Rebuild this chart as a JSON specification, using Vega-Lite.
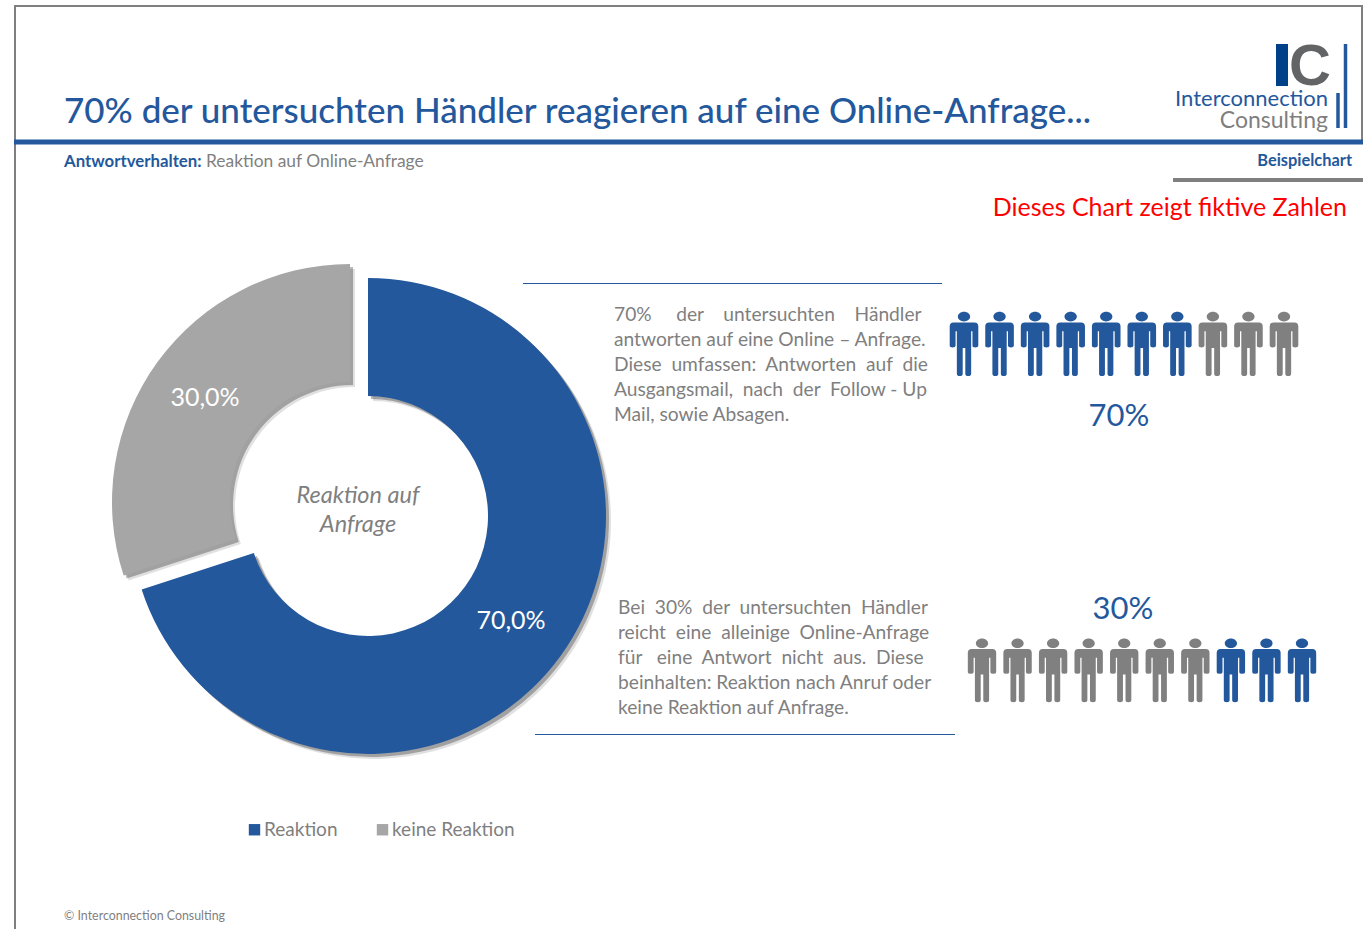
{
"$schema":"https://vega.github.io/schema/vega-lite/v6.json",
"width":1363,"height":929,"padding":0,
"autosize":{"type":"fit","contains":"padding"},
"background":"white",
"config":{"view":{"stroke":null},"text":{"font":"Lato"}},
"datasets":{
"anteile":[{"Antwort":"Reaktion","von":0,"bis":70,"Etikett":"70,0%"},{"Antwort":"keine Reaktion","von":70,"bis":100,"Etikett":"30,0%"}],
"figuren70":[{"nr":1,"status":"Reaktion"},{"nr":2,"status":"Reaktion"},{"nr":3,"status":"Reaktion"},{"nr":4,"status":"Reaktion"},{"nr":5,"status":"Reaktion"},{"nr":6,"status":"Reaktion"},{"nr":7,"status":"Reaktion"},{"nr":8,"status":"keine"},{"nr":9,"status":"keine"},{"nr":10,"status":"keine"}],
"figuren30":[{"nr":1,"status":"keine"},{"nr":2,"status":"keine"},{"nr":3,"status":"keine"},{"nr":4,"status":"keine"},{"nr":5,"status":"keine"},{"nr":6,"status":"keine"},{"nr":7,"status":"keine"},{"nr":8,"status":"Reaktion"},{"nr":9,"status":"Reaktion"},{"nr":10,"status":"Reaktion"}],
"eins":[{"n":1}]
},
"layer":[
{"data":{"name":"eins"},"mark":{"type":"rule","color":"#7f7f7f","strokeWidth":2},"encoding":{"x":{"value":14},"x2":{"value":1363},"y":{"value":6}}},
{"data":{"name":"eins"},"mark":{"type":"rule","color":"#7f7f7f","strokeWidth":2},"encoding":{"x":{"value":15},"y":{"value":6},"y2":{"value":929}}},
{"data":{"name":"eins"},"mark":{"type":"rule","color":"#7f7f7f","strokeWidth":2},"encoding":{"x":{"value":1362},"y":{"value":6},"y2":{"value":142}}},
{"data":{"name":"eins"},"mark":{"type":"rule","color":"#24589c","strokeWidth":5},"encoding":{"x":{"value":14},"x2":{"value":1363},"y":{"value":142}}},
{"data":{"name":"eins"},"mark":{"type":"rule","color":"#7f7f7f","strokeWidth":4},"encoding":{"x":{"value":1173},"x2":{"value":1363},"y":{"value":180}}},
{"data":{"name":"eins"},"mark":{"type":"rule","color":"#24589c","strokeWidth":1},"encoding":{"x":{"value":523},"x2":{"value":942},"y":{"value":283.5}}},
{"data":{"name":"eins"},"mark":{"type":"rule","color":"#24589c","strokeWidth":1},"encoding":{"x":{"value":535},"x2":{"value":955},"y":{"value":734.5}}},
{"data":{"name":"eins"},"mark":{"type":"rule","color":"#004088","strokeWidth":12},"encoding":{"x":{"value":1282},"y":{"value":44},"y2":{"value":86}}},
{"data":{"name":"eins"},"mark":{"type":"rule","color":"#24589c","strokeWidth":3.5},"encoding":{"x":{"value":1345.5},"y":{"value":44},"y2":{"value":128}}},
{"data":{"name":"eins"},"mark":{"type":"rule","color":"#24589c","strokeWidth":3.5},"encoding":{"x":{"value":1338},"y":{"value":93},"y2":{"value":128}}},
{"data":{"values":[{"t":"C"}]},"mark":{"type":"text","font":"Liberation Sans","fontWeight":"bold","fontSize":58,"color":"#636466","align":"right","baseline":"alphabetic"},"encoding":{"text":{"field":"t"},"x":{"value":1331},"y":{"value":85}}},
{"data":{"values":[{"t":"Interconnection"}]},"mark":{"type":"text","fontSize":22,"color":"#24589c","align":"right","baseline":"alphabetic"},"encoding":{"text":{"field":"t"},"x":{"value":1328},"y":{"value":106}}},
{"data":{"values":[{"t":"Consulting"}]},"mark":{"type":"text","fontSize":23,"color":"#7f7f7f","align":"right","baseline":"alphabetic"},"encoding":{"text":{"field":"t"},"x":{"value":1328},"y":{"value":128}}},
{"data":{"values":[{"t":"70% der untersuchten Händler reagieren auf eine Online-Anfrage..."}]},"mark":{"type":"text","fontSize":35,"fontWeight":500,"color":"#24589c","align":"left","baseline":"alphabetic"},"encoding":{"text":{"field":"t"},"x":{"value":64},"y":{"value":123}}},
{"data":{"values":[{"t":"Antwortverhalten:"}]},"mark":{"type":"text","fontSize":16.8,"fontWeight":"bold","color":"#24589c","align":"left","baseline":"alphabetic"},"encoding":{"text":{"field":"t"},"x":{"value":64},"y":{"value":167}}},
{"data":{"values":[{"t":"Reaktion auf Online-Anfrage"}]},"mark":{"type":"text","fontSize":17.4,"color":"#7f7f7f","align":"left","baseline":"alphabetic"},"encoding":{"text":{"field":"t"},"x":{"value":206},"y":{"value":167}}},
{"data":{"values":[{"t":"Beispielchart"}]},"mark":{"type":"text","fontSize":16.4,"fontWeight":"bold","color":"#24589c","align":"right","baseline":"alphabetic"},"encoding":{"text":{"field":"t"},"x":{"value":1352},"y":{"value":166}}},
{"data":{"values":[{"t":"Dieses Chart zeigt fiktive Zahlen"}]},"mark":{"type":"text","fontSize":25,"color":"#ff0000","align":"right","baseline":"alphabetic"},"encoding":{"text":{"field":"t"},"x":{"value":1347},"y":{"value":216}}},
{"data":{"name":"anteile"},"mark":{"type":"arc","innerRadius":120,"outerRadius":238,"color":"#000000","opacity":0.12},"encoding":{
"x":{"field":"Antwort","type":"nominal","axis":null,"scale":{"type":"point","padding":0,"domain":["Reaktion","keine Reaktion"],"range":[373,355]}},
"y":{"field":"Antwort","type":"nominal","axis":null,"scale":{"type":"point","padding":0,"domain":["Reaktion","keine Reaktion"],"range":[521,507]}},
"theta":{"field":"von","type":"quantitative","scale":{"domain":[0,100],"range":[0,6.28318]}},"theta2":{"field":"bis"}}},
{"data":{"name":"anteile"},"mark":{"type":"arc","innerRadius":120,"outerRadius":238,"color":"#000000","opacity":0.28},"encoding":{
"x":{"field":"Antwort","type":"nominal","axis":null,"scale":{"type":"point","padding":0,"domain":["Reaktion","keine Reaktion"],"range":[371,353]}},
"y":{"field":"Antwort","type":"nominal","axis":null,"scale":{"type":"point","padding":0,"domain":["Reaktion","keine Reaktion"],"range":[519,505]}},
"theta":{"field":"von","type":"quantitative","scale":{"domain":[0,100],"range":[0,6.28318]}},"theta2":{"field":"bis"}}},
{"data":{"name":"anteile"},"mark":{"type":"arc","innerRadius":120,"outerRadius":238},"encoding":{
"x":{"field":"Antwort","type":"nominal","axis":null,"scale":{"type":"point","padding":0,"domain":["Reaktion","keine Reaktion"],"range":[368,350]}},
"y":{"field":"Antwort","type":"nominal","axis":null,"scale":{"type":"point","padding":0,"domain":["Reaktion","keine Reaktion"],"range":[516,502]}},
"theta":{"field":"von","type":"quantitative","scale":{"domain":[0,100],"range":[0,6.28318]}},"theta2":{"field":"bis"},
"color":{"field":"Antwort","type":"nominal","scale":{"domain":["Reaktion","keine Reaktion"],"range":["#24589c","#a6a6a6"]},
"legend":{"title":null,"orient":"none","legendX":245,"legendY":820,"direction":"horizontal","symbolType":"square","symbolSize":130,"symbolStrokeWidth":0,"labelFont":"Lato","labelFontSize":19,"labelColor":"#7f7f7f","labelOffset":0,"columnPadding":35,"symbolOpacity":1}}}},
{"data":{"name":"anteile"},"mark":{"type":"text","fontSize":25,"color":"white","align":"center","baseline":"middle"},"encoding":{
"text":{"field":"Etikett"},
"x":{"field":"Antwort","type":"nominal","axis":null,"scale":{"type":"point","padding":0,"domain":["Reaktion","keine Reaktion"],"range":[511,205]}},
"y":{"field":"Antwort","type":"nominal","axis":null,"scale":{"type":"point","padding":0,"domain":["Reaktion","keine Reaktion"],"range":[621,398]}}}},
{"data":{"values":[{"t":"Reaktion auf\nAnfrage"}]},"mark":{"type":"text","fontSize":23.5,"fontStyle":"italic","color":"#7f7f7f","align":"center","baseline":"middle","lineBreak":"\n","lineHeight":29},"encoding":{"text":{"field":"t"},"x":{"value":358},"y":{"value":496}}},
{"data":{"values":[{"t":"70%\u00a0\u00a0\u00a0\u00a0\u00a0der\u00a0\u00a0\u00a0\u00a0untersuchten\u00a0\u00a0\u00a0\u00a0Händler\nantworten auf eine Online – Anfrage.\nDiese\u00a0\u00a0umfassen:\u00a0\u00a0Antworten\u00a0\u00a0auf\u00a0\u00a0die\nAusgangsmail,\u00a0\u00a0nach\u00a0\u00a0der\u00a0\u00a0Follow - Up\nMail, sowie Absagen."}]},"mark":{"type":"text","fontSize":19.2,"color":"#7f7f7f","align":"left","baseline":"middle","lineBreak":"\n","lineHeight":25},"encoding":{"text":{"field":"t"},"x":{"value":614},"y":{"value":315}}},
{"data":{"values":[{"t":"Bei\u00a0\u00a030%\u00a0\u00a0der\u00a0\u00a0untersuchten\u00a0\u00a0Händler\nreicht\u00a0\u00a0eine\u00a0\u00a0alleinige\u00a0\u00a0Online-Anfrage\nfür\u00a0\u00a0\u00a0eine\u00a0\u00a0Antwort\u00a0\u00a0nicht\u00a0\u00a0aus.\u00a0\u00a0Diese\nbeinhalten: Reaktion nach Anruf oder\nkeine Reaktion auf Anfrage."}]},"mark":{"type":"text","fontSize":19.2,"color":"#7f7f7f","align":"left","baseline":"middle","lineBreak":"\n","lineHeight":25},"encoding":{"text":{"field":"t"},"x":{"value":618},"y":{"value":608}}},
{"data":{"name":"figuren70"},"mark":{"type":"point","filled":true,"opacity":1,"size":4224,"shape":"M-0.19,-0.83 A0.19,0.15 0 1,1 0.19,-0.83 A0.19,0.15 0 1,1 -0.19,-0.83 Z M-0.32,-0.65 H0.32 Q0.44,-0.65 0.44,-0.53 V0.07 Q0.44,0.12 0.35,0.12 Q0.26,0.12 0.26,0.07 V-0.38 H0.22 V0.93 Q0.22,1 0.13,1 Q0.04,1 0.04,0.93 V0.14 H-0.04 V0.93 Q-0.04,1 -0.13,1 Q-0.22,1 -0.22,0.93 V-0.38 H-0.26 V0.07 Q-0.26,0.12 -0.35,0.12 Q-0.44,0.12 -0.44,0.07 V-0.53 Q-0.44,-0.65 -0.32,-0.65 Z"},"encoding":{
"x":{"field":"nr","type":"quantitative","axis":null,"scale":{"domain":[1,10],"range":[964,1284]}},
"y":{"value":343.5},
"color":{"condition":{"test":"datum.status==='Reaktion'","value":"#24589c"},"value":"#808080"}}},
{"data":{"name":"figuren30"},"mark":{"type":"point","filled":true,"opacity":1,"size":4160,"shape":"M-0.19,-0.83 A0.19,0.15 0 1,1 0.19,-0.83 A0.19,0.15 0 1,1 -0.19,-0.83 Z M-0.32,-0.65 H0.32 Q0.44,-0.65 0.44,-0.53 V0.07 Q0.44,0.12 0.35,0.12 Q0.26,0.12 0.26,0.07 V-0.38 H0.22 V0.93 Q0.22,1 0.13,1 Q0.04,1 0.04,0.93 V0.14 H-0.04 V0.93 Q-0.04,1 -0.13,1 Q-0.22,1 -0.22,0.93 V-0.38 H-0.26 V0.07 Q-0.26,0.12 -0.35,0.12 Q-0.44,0.12 -0.44,0.07 V-0.53 Q-0.44,-0.65 -0.32,-0.65 Z"},"encoding":{
"x":{"field":"nr","type":"quantitative","axis":null,"scale":{"domain":[1,10],"range":[982,1302]}},
"y":{"value":670},
"color":{"condition":{"test":"datum.status==='Reaktion'","value":"#24589c"},"value":"#808080"}}},
{"data":{"values":[{"t":"70%"}]},"mark":{"type":"text","fontSize":31,"color":"#24589c","align":"center","baseline":"middle"},"encoding":{"text":{"field":"t"},"x":{"value":1119},"y":{"value":417}}},
{"data":{"values":[{"t":"30%"}]},"mark":{"type":"text","fontSize":31,"color":"#24589c","align":"center","baseline":"middle"},"encoding":{"text":{"field":"t"},"x":{"value":1123},"y":{"value":610}}},
{"data":{"values":[{"t":"© Interconnection Consulting"}]},"mark":{"type":"text","fontSize":12.4,"color":"#7f7f7f","align":"left","baseline":"alphabetic"},"encoding":{"text":{"field":"t"},"x":{"value":64},"y":{"value":920}}}
],
"resolve":{"scale":{"x":"independent","y":"independent","theta":"independent"}}
}
